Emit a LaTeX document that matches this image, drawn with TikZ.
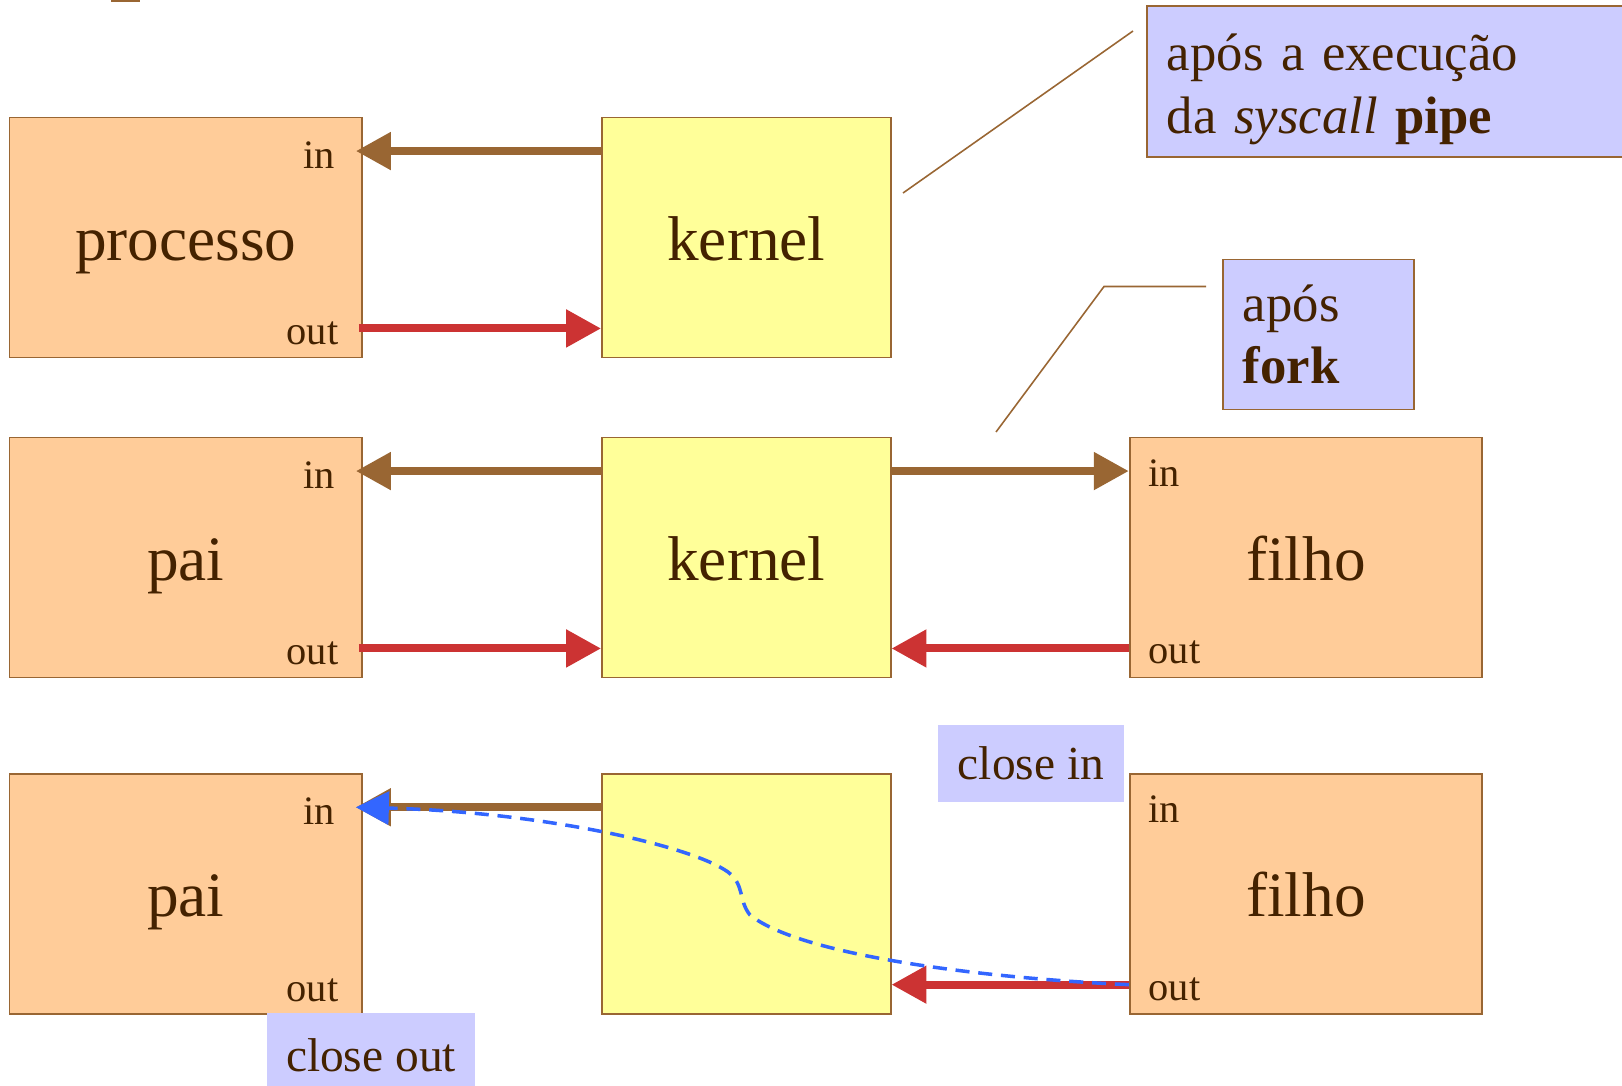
\documentclass[tikz,border=0pt]{standalone}
\usepackage{fontspec}
\setmainfont{Liberation Serif}
\usetikzlibrary{arrows.meta,positioning}
\definecolor{boxorange}{RGB}{255,204,153}
\definecolor{boxyellow}{RGB}{255,255,153}
\definecolor{notelilac}{RGB}{204,204,255}
\definecolor{edgebrown}{RGB}{153,102,51}
\definecolor{pipered}{RGB}{204,51,51}
\definecolor{flowblue}{RGB}{51,102,255}
\definecolor{inkbrown}{RGB}{68,34,0}

\begin{document}
\begin{tikzpicture}[x=0.02cm, y=-0.02cm,
  proc/.style={draw=edgebrown, line width=1.1pt, fill=boxorange, minimum width=7.05cm, minimum height=4.8cm,
    text height=1.13cm, text depth=0.2cm, inner sep=0pt, font=\fontsize{36}{40}\selectfont, text=inkbrown},
  kern/.style={proc, fill=boxyellow, minimum width=5.77cm},
  port/.style={anchor=base west, inner sep=0pt, font=\fontsize{23}{26}\selectfont, text=inkbrown},
  note/.style={draw=edgebrown, line width=1pt, fill=notelilac, align=left, inner xsep=0.4cm,
    font=\fontsize{30}{35.5}\selectfont, text=inkbrown},
  tag/.style={fill=notelilac, inner sep=0pt, font=\fontsize{27}{30}\selectfont, text=inkbrown},
  leader/.style={draw=edgebrown, line width=0.9pt},
  readarr/.style={draw=edgebrown, line width=4.6pt, -{Triangle[length=0.7cm, width=0.72cm]}},
  writearr/.style={draw=pipered, line width=4.6pt, -{Triangle[length=0.7cm, width=0.72cm]}},
  flow/.style={draw=flowblue, line width=2pt, dash pattern=on 8pt off 5pt, -{Triangle[length=0.66cm, width=0.66cm]}}
]
\useasboundingbox (0,0) rectangle (1622,1085);
\clip (0,0) rectangle (1622,1085);

\fill[edgebrown] (111,0) rectangle (140,2.5);

% depois do pipe
\node[proc] (p1) at (185.7,237.5) {processo};
\node[kern] (k1) at (746.3,237.5) {kernel};
\node[port] (p1in) at ([xshift=-1.2cm,yshift=-1.03cm]p1.north east) {in};
\node[port] (p1out) at ([xshift=-1.53cm,yshift=0.27cm]p1.south east) {out};
\draw[readarr] ([yshift=-0.69cm]k1.north west) -- ([xshift=-0.14cm,yshift=-0.69cm]p1.north east);
\draw[writearr] ([xshift=-0.08cm,yshift=0.6cm]p1.south east) -- ([yshift=0.6cm]k1.south west);

\node[note, anchor=north west, text width=9.6cm, minimum height=3.02cm] (c1) at (1146,5) {\rule{0pt}{1.05cm}após a execução\\da \textit{syscall} \textbf{pipe}};
\coordinate (l1a) at (903,193);
\coordinate (l1b) at (1133,31);
\draw[leader] (l1a) -- (l1b);

% depois do fork
\node[proc] (p2) at (185.7,557.5) {pai};
\node[kern] (k2) at (746.3,557.5) {kernel};
\node[proc] (f2) at (1306,557.5) {filho};
\node[port] (p2in) at ([xshift=-1.2cm,yshift=-1.03cm]p2.north east) {in};
\node[port] (p2out) at ([xshift=-1.53cm,yshift=0.27cm]p2.south east) {out};
\node[port] (f2in) at ([xshift=0.39cm,yshift=-0.99cm]f2.north west) {in};
\node[port] (f2out) at ([xshift=0.39cm,yshift=0.29cm]f2.south west) {out};
\draw[readarr] ([yshift=-0.69cm]k2.north west) -- ([xshift=-0.14cm,yshift=-0.69cm]p2.north east);
\draw[writearr] ([xshift=-0.08cm,yshift=0.6cm]p2.south east) -- ([yshift=0.6cm]k2.south west);
\draw[readarr] ([yshift=-0.69cm]k2.north east) -- ([yshift=-0.69cm]f2.north west);
\draw[writearr] ([yshift=0.6cm]f2.south west) -- ([yshift=0.6cm]k2.south east);

\node[note, anchor=north west, text width=3.02cm, minimum height=3cm] (c2) at (1222,258.6) {após\\\textbf{fork}};
\coordinate (l2a) at (996,432);
\coordinate (l2b) at (1104,286.5);
\coordinate (l2c) at (1206,286.5);
\draw[leader] (l2a) -- (l2b) -- (l2c);

% depois dos close
\node[proc] (p3) at (185.7,893.7) {pai};
\node[kern] (k3) at (746.3,893.7) {};
\node[proc] (f3) at (1306,893.7) {filho};
\node[port] (p3in) at ([xshift=-1.2cm,yshift=-1.03cm]p3.north east) {in};
\node[port] (p3out) at ([xshift=-1.53cm,yshift=0.27cm]p3.south east) {out};
\node[port] (f3in) at ([xshift=0.39cm,yshift=-0.99cm]f3.north west) {in};
\node[port] (f3out) at ([xshift=0.39cm,yshift=0.29cm]f3.south west) {out};
\draw[readarr] ([yshift=-0.69cm]k3.north west) -- ([xshift=-0.14cm,yshift=-0.69cm]p3.north east);
\draw[writearr] ([yshift=0.6cm]f3.south west) -- ([yshift=0.6cm]k3.south east);
\draw[flow] ([yshift=0.6cm]f3.south west) .. controls (980,978) and (800,955) .. (750,915)
  .. controls (738,900) and (745,885) .. (728,872)
  .. controls (690,845) and (540,812) .. ([xshift=-0.14cm,yshift=-0.69cm]p3.north east);

\node[tag, minimum width=3.72cm, minimum height=1.54cm] (ci) at (1031,763.5) {close in};
\node[tag, anchor=north, minimum width=4.16cm, minimum height=1.66cm] (co) at (371,1013) {close out};
\end{tikzpicture}
\end{document}
